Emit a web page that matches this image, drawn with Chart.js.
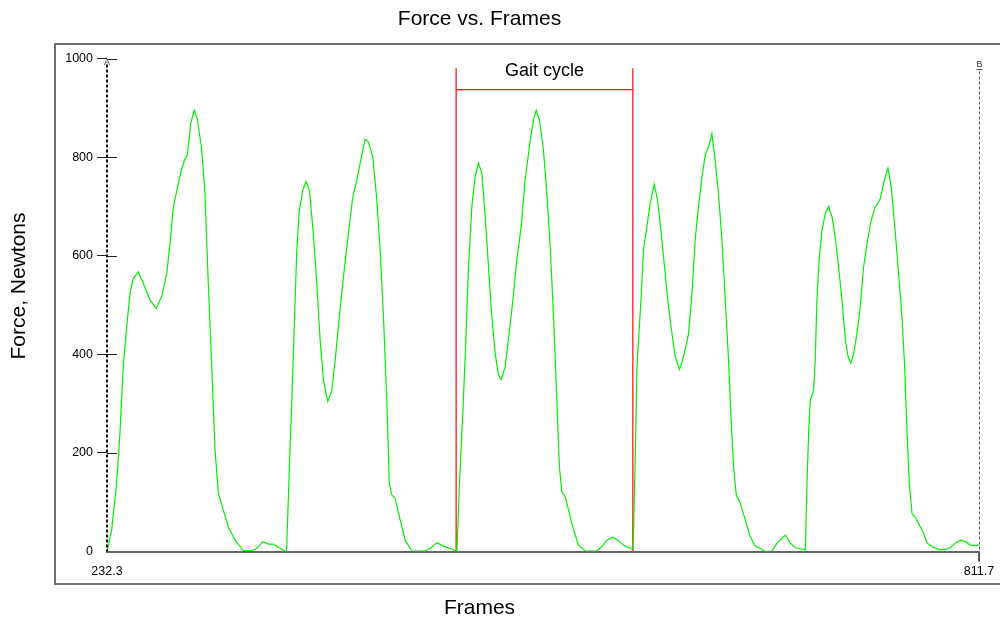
<!DOCTYPE html>
<html>
<head>
<meta charset="utf-8">
<title>Force vs. Frames</title>
<script src="https://cdn.jsdelivr.net/npm/chart.js@4.4.1/dist/chart.umd.min.js"></script>
<style>
  html, body { margin: 0; padding: 0; background: #fff; }
  #wrap { width: 1000px; height: 624px; }
</style>
</head>
<body>
<div id="wrap"><canvas id="force-chart"></canvas></div>
<script>
// frame numbers and vertical force
const frames = [
  232.3, 235.4, 238.7, 240.9, 243.1, 245.4, 247.6, 249.8, 253.1, 256.4, 260.9, 264.9, 268.7, 272.0,
  274.2, 276.4, 279.7, 282.0, 284.2, 285.7, 287.9, 290.3, 292.3, 295.3, 297.4, 299.6, 301.9, 304.1,
  306.3, 309.6, 312.9, 317.4, 322.9, 328.5, 331.8, 335.8, 339.5, 342.8, 346.2, 350.6,
  351.6, 353.5, 355.1, 357.3, 358.4, 360.1, 362.4, 364.6, 366.8, 369.4, 371.7, 373.9, 376.1, 379.0,
  381.7, 383.9, 386.7, 389.4, 392.7, 395.6, 398.3, 400.9, 403.8, 406.0, 408.9, 411.6, 413.8, 416.0,
  418.2, 419.9, 421.5, 423.7, 427.1, 430.4, 434.8, 443.7, 447.0, 451.5, 455.8, 460.3, 463.6,
  464.8, 466.5, 469.1, 470.9, 472.5, 474.7, 476.9, 479.1, 481.4, 483.6, 485.8, 488.0, 490.2, 492.4,
  494.2, 496.9, 499.0, 502.0, 504.6, 507.5, 510.1, 513.5, 515.7, 517.5, 519.7, 522.3, 524.6, 526.8,
  529.0, 531.2, 532.9, 534.5, 536.7, 539.6, 542.3, 545.6, 550.0, 557.8, 561.1, 564.5, 568.2, 572.2,
  575.5, 578.8, 581.7,
  582.1, 583.3, 584.4, 585.5, 587.1, 588.8, 591.0, 593.2, 595.9, 598.1, 601.0, 603.2, 605.4, 607.7,
  609.9, 612.7, 615.4, 618.7, 621.0, 623.1, 625.3, 627.6, 629.8, 632.0, 634.2, 636.4, 638.6, 640.9,
  643.1, 645.3, 646.9, 648.6, 650.4, 653.1, 656.4, 659.7, 663.0, 666.4, 669.7, 674.1, 677.5, 683.0,
  686.3, 689.6, 696.3,
  697.4, 698.5, 699.6, 701.8, 702.9, 704.0, 705.6, 707.4, 709.6, 711.8, 714.0, 716.2, 718.4, 720.7,
  722.9, 724.7, 726.6, 728.4, 730.6, 732.8, 735.0, 737.3, 740.1, 742.8, 744.6, 746.1, 748.3, 751.2,
  753.4, 756.1, 758.3, 760.5, 762.3, 763.9, 765.4, 767.2, 769.8, 772.7, 774.9, 777.2, 780.5, 784.9,
  789.3, 792.6, 796.0, 799.3, 802.6, 805.9, 809.3, 811.7
];
const force = [
  0, 44, 139, 240, 375, 456, 524, 554, 567, 544, 510, 493, 517, 564,
  625, 699, 747, 777, 797, 804, 868, 895, 878, 814, 726, 544, 375, 206,
  118, 84, 50, 23, 2, 2, 6, 20, 15, 15, 8, 1,
  0, 172, 307, 510, 611, 692, 733, 750, 733, 645, 544, 429, 348, 304,
  327, 388, 476, 557, 645, 719, 753, 794, 836, 831, 800, 713, 611, 476,
  307, 138, 115, 108, 64, 23, 1, 1, 6, 18, 11, 6, 2,
  0, 138, 307, 442, 577, 699, 760, 788, 767, 679, 577, 476, 402, 358,
  349, 375, 429, 510, 591, 659, 753, 834, 875, 895, 875, 814, 726, 618,
  476, 307, 172, 121, 111, 77, 44, 13, 1, 1, 10, 23, 29, 22,
  13, 8, 6,
  30, 192, 375, 429, 510, 611, 659, 706, 745, 713, 632, 564, 496, 442,
  395, 369, 395, 442, 524, 632, 699, 760, 804, 821, 848, 794, 726, 632,
  510, 388, 273, 172, 115, 98, 64, 30, 11, 6, 0, 1, 17, 33,
  17, 8, 3,
  138, 240, 307, 327, 388, 510, 598, 652, 686, 700, 679, 638, 577, 510,
  429, 395, 382, 402, 442, 496, 577, 625, 672, 699, 707, 716, 747, 777,
  740, 645, 564, 476, 375, 240, 138, 77, 67, 50, 37, 17, 10, 4,
  4, 8, 17, 23, 20, 13, 12, 13
];

const xTickValues = [232.3, 811.7];
const yMax = 1000;
const yStep = 200;

// gait cycle bracket (frames / newtons)
const gaitStart = 464.3;
const gaitEnd = 581.7;
const gaitTop = 980;
const gaitBar = 937;
const gaitLabelY = 975;
const gaitLabel = "Gait cycle";

const FONT = "'Liberation Sans', Arial, sans-serif";

const decor = {
  id: "decor",
  afterDraw(chart) {
    const { ctx, chartArea, scales } = chart;
    const xs = scales.x, ys = scales.y;
    ctx.save();

    // outer frame
    ctx.strokeStyle = "#707070";
    ctx.lineWidth = 2;
    ctx.strokeRect(55, 44, 960, 540);

    // A cursor = dashed y axis
    ctx.strokeStyle = "#111";
    ctx.lineWidth = 2;
    ctx.setLineDash([3, 2]);
    ctx.beginPath();
    ctx.moveTo(chartArea.left, chartArea.top + 6);
    ctx.lineTo(chartArea.left, chartArea.bottom);
    ctx.stroke();
    ctx.setLineDash([]);

    // y tick marks crossing the axis
    ctx.strokeStyle = "#222";
    ctx.lineWidth = 1;
    ys.ticks.forEach((t) => {
      if (t.value === 0) return;
      const py = Math.round(ys.getPixelForValue(t.value)) + 0.5;
      ctx.beginPath();
      ctx.moveTo(chartArea.left, py);
      ctx.lineTo(chartArea.left + 10, py);
      ctx.stroke();
    });

    // B cursor at the end frame
    const bx = Math.round(xs.getPixelForValue(xTickValues[1])) + 0.5;
    ctx.strokeStyle = "#555";
    ctx.setLineDash([3, 2]);
    ctx.beginPath();
    ctx.moveTo(bx, chartArea.top + 13);
    ctx.lineTo(bx, chartArea.bottom);
    ctx.stroke();
    ctx.setLineDash([]);
    ctx.beginPath();
    ctx.moveTo(bx - 3, chartArea.top + 11);
    ctx.lineTo(bx + 3, chartArea.top + 11);
    ctx.stroke();

    ctx.fillStyle = "#333";
    ctx.font = "9px " + FONT;
    ctx.textAlign = "center";
    ctx.textBaseline = "middle";
    ctx.fillText("B", bx, chartArea.top + 6);
    ctx.fillText("A", chartArea.left, chartArea.top + 4);

    // gait cycle label
    ctx.fillStyle = "#000";
    ctx.font = "18px " + FONT;
    ctx.fillText(gaitLabel, (xs.getPixelForValue(gaitStart) + xs.getPixelForValue(gaitEnd)) / 2,
      ys.getPixelForValue(gaitLabelY));

    // y axis title
    ctx.font = "21px " + FONT;
    ctx.translate(19, 286);
    ctx.rotate(-Math.PI / 2);
    ctx.fillText("Force, Newtons", 0, 0);

    ctx.restore();
  },
};

const red = "#ff1a1a";

new Chart(document.getElementById("force-chart"), {
  type: "line",
  data: {
    datasets: [
      {
        label: "Force",
        data: frames.map((f, i) => ({ x: f, y: force[i] })),
        borderColor: "#00ee00",
        borderWidth: 1.2,
        pointRadius: 0,
        tension: 0,
      },
      {
        label: "Gait start",
        data: [{ x: gaitStart, y: 0 }, { x: gaitStart, y: gaitTop }],
        borderColor: red,
        borderWidth: 1.3,
        pointRadius: 0,
      },
      {
        label: "Gait end",
        data: [{ x: gaitEnd, y: 0 }, { x: gaitEnd, y: gaitTop }],
        borderColor: red,
        borderWidth: 1.3,
        pointRadius: 0,
      },
      {
        label: "Gait bar",
        data: [{ x: gaitStart, y: gaitBar }, { x: gaitEnd, y: gaitBar }],
        borderColor: red,
        borderWidth: 1.3,
        pointRadius: 0,
      },
    ],
  },
  options: {
    responsive: true,
    maintainAspectRatio: false,
    animation: false,
    layout: { padding: { left: -20, right: 21, top: 0, bottom: 0 } },
    scales: {
      x: {
        type: "linear",
        min: xTickValues[0],
        max: xTickValues[1],
        afterBuildTicks: (scale) => {
          scale.ticks = xTickValues.map((v) => ({ value: v }));
        },
        afterFit: (scale) => {
          scale.height = 34.3;
        },
        ticks: {
          autoSkip: false,
          maxRotation: 0,
          padding: 3,
          color: "#000",
          font: { family: FONT, size: 12.5 },
          callback: (v) => Number(v).toFixed(1),
        },
        grid: {
          drawOnChartArea: false,
          tickLength: 10,
          lineWidth: 2,
          color: (c) => (c.index === 0 ? "rgba(0,0,0,0)" : "#555"),
        },
        border: { display: true, color: "#666", width: 2 },
      },
      y: {
        min: 0,
        max: yMax,
        afterFit: (scale) => {
          scale.width = 127;
        },
        ticks: {
          stepSize: yStep,
          padding: 4,
          color: "#000",
          font: { family: FONT, size: 12.5 },
          callback: (v) => String(v),
        },
        grid: {
          drawOnChartArea: false,
          tickLength: 10,
          color: (c) => (c.tick && c.tick.value === 0 ? "rgba(0,0,0,0)" : "#222"),
        },
        border: { display: false },
      },
    },
    plugins: {
      legend: { display: false },
      tooltip: { enabled: false },
      title: {
        display: true,
        text: "Force vs. Frames",
        color: "#000",
        font: { family: FONT, size: 21, weight: "normal" },
        padding: { top: 7, bottom: 26.3 },
      },
      subtitle: {
        display: true,
        position: "bottom",
        text: "Frames",
        color: "#000",
        font: { family: FONT, size: 21, weight: "normal" },
        padding: { top: 10, bottom: 3 },
      },
    },
  },
  plugins: [decor],
});
</script>
</body>
</html>
